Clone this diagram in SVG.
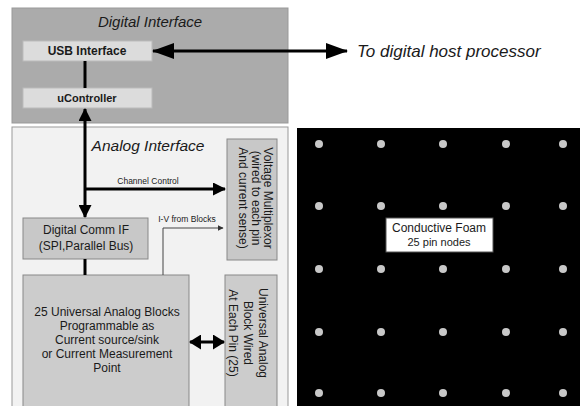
<svg xmlns="http://www.w3.org/2000/svg" width="580" height="406" viewBox="0 0 580 406">
<defs>
<style>
.t{font-family:"Liberation Sans",Arial,sans-serif;fill:#1a1a1a;}
.it{font-style:italic;}
.b{font-weight:bold;}
.box{stroke:#999;stroke-width:1;}
.thick{stroke:#000;stroke-width:3;fill:none;}
.thin{stroke:#444;stroke-width:1;fill:none;}
.dot{fill:#c8c8c8;}
</style>
<marker id="big" viewBox="0 0 22 16" refX="21" refY="8" markerWidth="22" markerHeight="16" orient="auto-start-reverse" markerUnits="userSpaceOnUse">
<path d="M0,0 L22,8 L0,16 z" fill="#000"/>
</marker>
<marker id="ah" viewBox="0 0 13 13" refX="12" refY="6.5" markerWidth="13" markerHeight="13" orient="auto-start-reverse" markerUnits="userSpaceOnUse">
<path d="M0,0 L13,6.5 L0,13 z" fill="#000"/>
</marker>
<marker id="sm" viewBox="0 0 12 15" refX="11" refY="7.5" markerWidth="12" markerHeight="15" orient="auto-start-reverse" markerUnits="userSpaceOnUse">
<path d="M0,0 L12,7.5 L0,15 z" fill="#000"/>
</marker>
<marker id="ahs" viewBox="0 0 10 10" refX="9" refY="5" markerWidth="6" markerHeight="6" orient="auto" markerUnits="userSpaceOnUse">
<path d="M0,0 L10,5 L0,10 z" fill="#333"/>
</marker>
</defs>
<rect width="580" height="406" fill="#fff"/>

<g id="digital-interface">
<rect x="12" y="8" width="276" height="115" fill="#ababab" class="box"/>
<text class="t it" x="150" y="27" font-size="15" text-anchor="middle" fill="#333">Digital Interface</text>
</g>
<g id="usb-interface">
<rect x="23" y="41" width="129" height="20" fill="#dcdcdc" stroke="#bbb"/>
<text class="t b" x="87" y="55" font-size="12" text-anchor="middle">USB Interface</text>
</g>
<g id="ucontroller">
<rect x="23" y="88" width="129" height="20" fill="#dcdcdc" stroke="#bbb"/>
<text class="t b" x="87" y="102" font-size="11" text-anchor="middle">uController</text>
</g>
<g id="host-label">
<text class="t it" x="357" y="57" font-size="17">To digital host processor</text>
</g>

<g id="analog-interface">
<rect x="12" y="127" width="276" height="285" fill="#f2f2f2" class="box"/>
<text class="t it" x="148" y="151" font-size="15.5" text-anchor="middle" fill="#333">Analog Interface</text>
</g>
<g id="voltage-multiplexor">
<rect x="227" y="139" width="50" height="121" fill="#c8c8c8" stroke="#888"/>
<g transform="rotate(90 252 198)">
<text class="t" x="252" y="186" font-size="12" text-anchor="middle">Voltage Multiplexor</text>
<text class="t" x="252" y="198" font-size="12" text-anchor="middle">(wired to each pin</text>
<text class="t" x="252" y="211" font-size="12" text-anchor="middle">And current sense)</text>
</g>
</g>
<g id="digital-comm-if">
<rect x="23" y="218" width="125" height="41" fill="#c8c8c8" stroke="#888"/>
<text class="t" x="86" y="234" font-size="12" text-anchor="middle">Digital Comm IF</text>
<text class="t" x="86" y="250" font-size="12" text-anchor="middle">(SPI,Parallel Bus)</text>
</g>
<g id="universal-analog-blocks">
<rect x="23" y="275" width="166" height="140" fill="#cccccc" stroke="#888"/>
<text class="t" x="107" y="316" font-size="12" text-anchor="middle">25 Universal Analog Blocks</text>
<text class="t" x="107" y="330" font-size="12" text-anchor="middle">Programmable as</text>
<text class="t" x="107" y="344" font-size="12" text-anchor="middle">Current source/sink</text>
<text class="t" x="107" y="358" font-size="12" text-anchor="middle">or Current Measurement</text>
<text class="t" x="107" y="372" font-size="12" text-anchor="middle">Point</text>
</g>
<g id="block-per-pin">
<rect x="225" y="275" width="52" height="140" fill="#cccccc" stroke="#888"/>
<g transform="rotate(90 248 333)">
<text class="t" x="248" y="322" font-size="12" text-anchor="middle">Universal Analog</text>
<text class="t" x="248" y="337" font-size="12" text-anchor="middle">Block Wired</text>
<text class="t" x="248" y="352" font-size="12" text-anchor="middle">At Each Pin (25)</text>
</g>
</g>

<g id="conductive-foam">
<rect x="297" y="128" width="283" height="278" fill="#000"/>
<g class="dot">
<circle cx="319" cy="144" r="4"/><circle cx="381" cy="144" r="4"/><circle cx="443" cy="144" r="4"/><circle cx="506" cy="144" r="4"/><circle cx="563" cy="144" r="4"/>
<circle cx="319" cy="206" r="4"/><circle cx="381" cy="206" r="4"/><circle cx="443" cy="206" r="4"/><circle cx="506" cy="206" r="4"/><circle cx="563" cy="206" r="4"/>
<circle cx="319" cy="269" r="4"/><circle cx="381" cy="269" r="4"/><circle cx="443" cy="269" r="4"/><circle cx="506" cy="269" r="4"/><circle cx="563" cy="269" r="4"/>
<circle cx="319" cy="332" r="4"/><circle cx="381" cy="332" r="4"/><circle cx="443" cy="332" r="4"/><circle cx="506" cy="332" r="4"/><circle cx="563" cy="332" r="4"/>
<circle cx="319" cy="393" r="4"/><circle cx="381" cy="393" r="4"/><circle cx="443" cy="393" r="4"/><circle cx="506" cy="393" r="4"/><circle cx="563" cy="393" r="4"/>
</g>
<rect x="386" y="218" width="107" height="34" fill="#fff" stroke="#555"/>
<text class="t" x="439" y="232" font-size="12" text-anchor="middle" fill="#000">Conductive Foam</text>
<text class="t" x="439" y="246" font-size="11" text-anchor="middle" fill="#000">25 pin nodes</text>
</g>

<g id="connectors">
<line class="thick" x1="153" y1="51" x2="347" y2="51" marker-start="url(#big)" marker-end="url(#big)"/>
<line class="thick" x1="85" y1="61" x2="85" y2="88"/>
<line class="thick" x1="85" y1="109" x2="85" y2="217" marker-start="url(#ah)" marker-end="url(#ah)"/>
<line class="thick" x1="85" y1="189" x2="225" y2="189" marker-end="url(#ah)"/>
<line class="thick" x1="85" y1="259" x2="85" y2="275"/>
<polyline class="thin" points="163,275 163,228 223,228" marker-end="url(#ahs)"/>
<line class="thick" x1="190" y1="342" x2="224" y2="342" marker-start="url(#sm)" marker-end="url(#sm)"/>
<text class="t" x="148" y="184" font-size="8.5" text-anchor="middle" fill="#444">Channel Control</text>
<text class="t" x="187" y="222" font-size="8.5" text-anchor="middle" fill="#444">I-V from Blocks</text>
</g>
</svg>
